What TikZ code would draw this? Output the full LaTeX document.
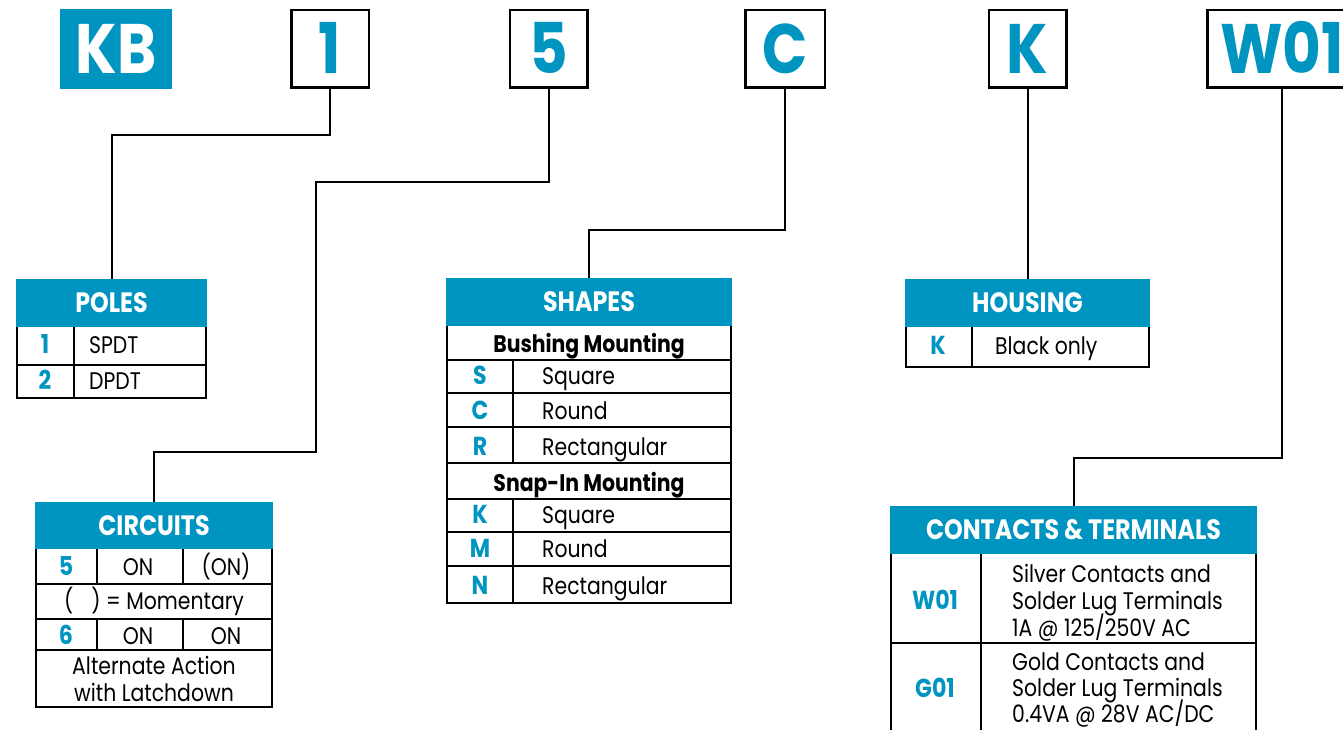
\documentclass[tikz,border=0pt]{standalone}
\usepackage{fontspec}
\setmainfont{Poppins}
\newfontfamily\bodyf[FakeStretch=0.85]{Poppins}
\definecolor{kbblue}{RGB}{0,148,192}
\tikzset{
  hdrbox/.style={fill=kbblue, inner sep=0pt, outer sep=0pt, anchor=north west, text=white,
    font=\bodyf\bfseries\fontsize{28}{28}\selectfont, text height=19.5pt, text depth=0pt},
  codetext/.style={text=kbblue, font=\bodyf\bfseries\fontsize{26}{26}\selectfont, anchor=base, inner sep=0pt},
  desctext/.style={text=black, font=\bodyf\fontsize{24}{24}\selectfont, anchor=base west, inner sep=0pt},
  ctrtext/.style={desctext, anchor=base},
  subtext/.style={text=black, font=\bodyf\bfseries\fontsize{24}{24}\selectfont, anchor=base, inner sep=0pt},
  topbox/.style={draw=black, line width=2.5pt, fill=white, text=kbblue,
    font=\bodyf\bfseries\fontsize{70}{70}\selectfont, inner sep=0pt, text height=49pt, text depth=0pt},
  conn/.style={draw=black, line width=2pt},
  outerln/.style={draw=black, line width=2.5pt},
  midln/.style={draw=black, line width=2.2pt},
  innerln/.style={draw=black, line width=1.5pt},
}
\begin{document}
\begin{tikzpicture}[x=1pt,y=-1pt]
\useasboundingbox (0,0) rectangle (1343,730);
\clip (0,0) rectangle (1343,730);
\fill[white] (0,0) rectangle (1343,730);

% ---------- top code boxes ----------
\node[fill=kbblue, text=white, inner sep=0pt, minimum width=112, minimum height=80,
  font=\bodyf\bfseries\fontsize{70}{70}\selectfont, text height=49pt, text depth=0pt] (kb) at (116,49) {KB};
\node[topbox, minimum width=77.5, minimum height=77.5] (b1) at (330,49) {1};
\node[topbox, minimum width=77.5, minimum height=77.5] (b5) at (548.5,49) {5};
\node[topbox, minimum width=79.5, minimum height=77.5] (bC) at (785,49) {C};
\node[topbox, minimum width=77.5, minimum height=77.5] (bK) at (1027.5,49) {K};
\node[topbox, minimum width=149.5, minimum height=77.5] (bW) at (1282,49) {W01};

% ---------- POLES ----------
\node[hdrbox, minimum width=191, minimum height=48] (polesH) at (16,279) {POLES};
\draw[innerln] (17,365) -- (206,365);
\draw[innerln] (74,327) -- (74,398);
\draw[outerln] (17,327) -- (17,398) -- (206,398) -- (206,327);
\node[codetext] (p1c) at (45,353) {1};
\node[desctext] (p1d) at (89,353) {SPDT};
\node[codetext] (p2c) at (45,389) {2};
\node[desctext] (p2d) at (89,389) {DPDT};

% ---------- CIRCUITS ----------
\node[hdrbox, minimum width=238, minimum height=47] (circH) at (35,502) {CIRCUITS};
\draw[innerln] (36,584) -- (272,584);
\draw[innerln] (36,619) -- (272,619);
\draw[innerln] (36,650) -- (272,650);
\draw[innerln] (97,549) -- (97,584) (183,549) -- (183,584);
\draw[innerln] (97,619) -- (97,650) (183,619) -- (183,650);
\draw[outerln] (36,549) -- (36,707) -- (272,707) -- (272,549);
\node[codetext] (c5) at (66,575) {5};
\node[ctrtext] (c5a) at (138,575) {ON};
\node[ctrtext] (c5b) at (226,575) {(ON)};
\node[ctrtext] (cmom) at (154,609) {(\hspace{18pt}) = Momentary};
\node[codetext] (c6) at (66,644) {6};
\node[ctrtext] (c6a) at (138,644) {ON};
\node[ctrtext] (c6b) at (226,644) {ON};
\node[ctrtext] (calt1) at (154,674) {Alternate Action};
\node[ctrtext] (calt2) at (154,701) {with Latchdown};

% ---------- SHAPES ----------
\node[hdrbox, minimum width=286, minimum height=48] (shH) at (446,278) {SHAPES};
\draw[midln] (447,360) -- (731,360);
\draw[innerln] (447,393) -- (731,393);
\draw[innerln] (447,427) -- (731,427);
\draw[midln] (447,463) -- (731,463);
\draw[midln] (447,499) -- (731,499);
\draw[innerln] (447,532) -- (731,532);
\draw[innerln] (447,566) -- (731,566);
\draw[innerln] (513,360) -- (513,463) (513,499) -- (513,603);
\draw[outerln] (447,326) -- (447,603) -- (731,603) -- (731,326);
\node[subtext] (bush) at (589,352) {Bushing Mounting};
\node[codetext] (sS) at (480,384) {S};
\node[desctext] (sSd) at (542,384) {Square};
\node[codetext] (sC) at (480,419) {C};
\node[desctext] (sCd) at (542,419) {Round};
\node[codetext] (sR) at (480,455) {R};
\node[desctext] (sRd) at (542,455) {Rectangular};
\node[subtext] (snap) at (589,491) {Snap-In Mounting};
\node[codetext] (sK) at (480,523) {K};
\node[desctext] (sKd) at (542,523) {Square};
\node[codetext] (sM) at (480,557) {M};
\node[desctext] (sMd) at (542,557) {Round};
\node[codetext] (sN) at (480,594) {N};
\node[desctext] (sNd) at (542,594) {Rectangular};

% ---------- HOUSING ----------
\node[hdrbox, minimum width=245, minimum height=48] (houH) at (905,279) {HOUSING};
\draw[innerln] (972,327) -- (972,367);
\draw[outerln] (906,327) -- (906,367) -- (1149,367) -- (1149,327);
\node[codetext] (hK) at (938,354) {K};
\node[desctext] (hKd) at (995,354) {Black only};

% ---------- CONTACTS & TERMINALS ----------
\node[hdrbox, minimum width=367, minimum height=48] (ctH) at (890,506) {CONTACTS \& TERMINALS};
\draw[innerln] (891,643) -- (1256,643);
\draw[innerln] (981,554) -- (981,731);
\draw[outerln] (891,554) -- (891,731) -- (1256,731) -- (1256,554);
\node[codetext] (tW) at (935,609) {W01};
\node[desctext] (tW1) at (1012,582) {Silver Contacts and};
\node[desctext] (tW2) at (1012,609) {Solder Lug Terminals};
\node[desctext] (tW3) at (1012,636) {1A @ 125/250V AC};
\node[codetext] (tG) at (935,697) {G01};
\node[desctext] (tG1) at (1012,670) {Gold Contacts and};
\node[desctext] (tG2) at (1012,696) {Solder Lug Terminals};
\node[desctext] (tG3) at (1012,722) {0.4VA @ 28V AC/DC};

% ---------- connectors ----------
\draw[conn] (b1.south) -- ++(0,46) -| (polesH.north);
\draw[conn] (b5.south) |- (316,182) -- (316,452) -| (circH.north);
\draw[conn] (bC.south) -- ++(0,141) -| (shH.north);
\draw[conn] (bK.south) -- (houH.north);
\draw[conn] (bW.south) -- ++(0,369) -| (ctH.north);
\end{tikzpicture}
\end{document}
